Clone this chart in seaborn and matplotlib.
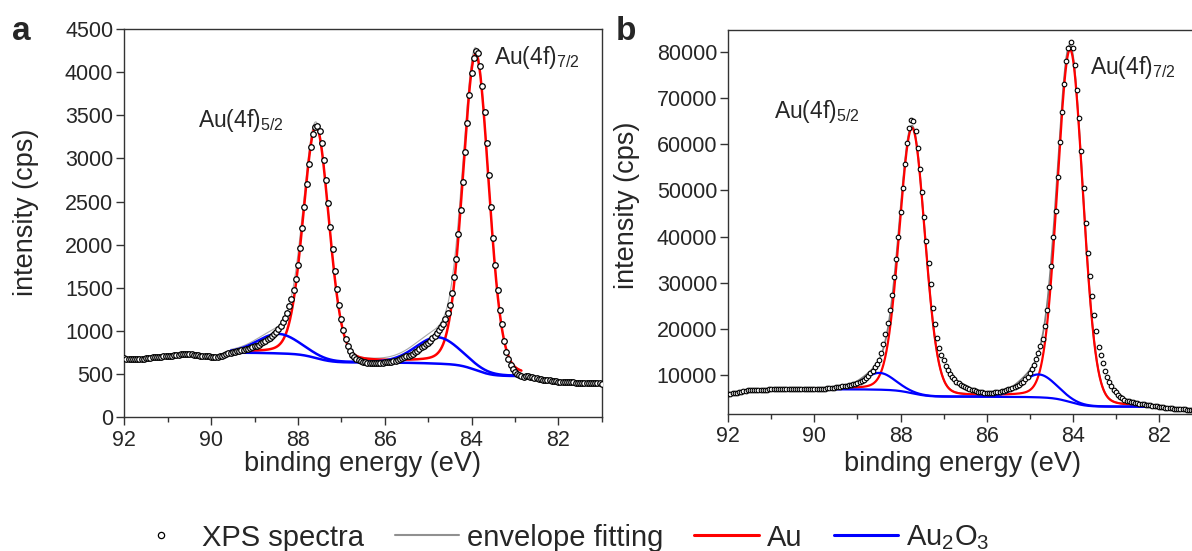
import numpy as np
import matplotlib
matplotlib.use("Agg")
import matplotlib.pyplot as plt
from matplotlib.lines import Line2D
from matplotlib.ticker import MultipleLocator
import seaborn as sns

sns.set_style("ticks")
plt.rcParams["font.family"] = ["Liberation Sans", "DejaVu Sans"]
plt.rcParams["mathtext.fontset"] = "custom"
plt.rcParams["mathtext.rm"] = "Liberation Sans"
plt.rcParams["mathtext.it"] = "Liberation Sans:italic"
plt.rcParams["mathtext.bf"] = "Liberation Sans:bold"

# ---------------------------------------------------------------------------
# Measured Au 4f spectra, binding energy scanned from 92.00 eV down in 0.05 eV steps
# ---------------------------------------------------------------------------
SCAN_START = 92.0
SCAN_STEP = 0.05

counts_a = [
    682, 680, 679, 681, 678, 680, 679, 677, 679, 681,      # 92.00 - 91.55
    682, 686, 691, 697, 701, 703, 704, 703, 706, 708,      # 91.50 - 91.05
    709, 711, 714, 718, 722, 727, 732, 736, 739, 738,      # 91.00 - 90.55
    735, 731, 727, 723, 720, 716, 713, 710, 707, 705,      # 90.50 - 90.05
    704, 702, 700, 701, 705, 714, 724, 733, 741, 749,      # 90.00 - 89.55
    757, 762, 768, 774, 779, 784, 790, 797, 805, 813,      # 89.50 - 89.05
    822, 832, 843, 856, 870, 885, 902, 921, 942, 966,      # 89.00 - 88.55
    993, 1024, 1060, 1102, 1152, 1212, 1285, 1375, 1480, 1600,   # 88.50 - 88.05
    1760, 1960, 2190, 2440, 2700, 2930, 3130, 3280, 3365, 3380,  # 88.00 - 87.55
    3315, 3180, 2985, 2745, 2480, 2210, 1950, 1700, 1485, 1300,  # 87.50 - 87.05
    1140, 1010, 905, 830, 770, 725, 695, 675, 660, 650,    # 87.00 - 86.55
    642, 637, 634, 632, 631, 631, 631, 632, 633, 634,      # 86.50 - 86.05
    636, 638, 641, 645, 650, 657, 665, 675, 687, 700,      # 86.00 - 85.55
    706, 713, 720, 736, 753, 772, 792, 812, 830, 848,      # 85.50 - 85.05
    866, 890, 915, 944, 975, 1008, 1045, 1085, 1135, 1205,       # 85.00 - 84.55
    1300, 1445, 1630, 1840, 2130, 2400, 2730, 3080, 3415, 3730,  # 84.50 - 84.05
    3990, 4165, 4240, 4220, 4075, 3845, 3535, 3180, 2805, 2435,  # 84.00 - 83.55
    2075, 1760, 1480, 1240, 1085, 880, 760, 670, 604, 555,       # 83.50 - 83.05
    520, 497, 485, 478, 472, 474, 476, 470, 462, 455,      # 83.00 - 82.55
    450, 446, 441, 437, 433, 430, 427, 424, 420, 417,      # 82.50 - 82.05
    414, 412, 411, 409, 408, 407, 406, 404, 403, 402,      # 82.00 - 81.55
    400, 399, 398, 397, 396, 395, 395, 394, 393, 392,      # 81.50 - 81.05
    391,                                                   # 81.00
]

counts_b = [
    5800, 5850, 5950, 6050, 6150, 6250, 6350, 6450, 6550, 6620,        # 92.00 - 91.55
    6680, 6720, 6750, 6760, 6740, 6720, 6730, 6760, 6800, 6850,        # 91.50 - 91.05
    6880, 6900, 6920, 6940, 6950, 6960, 6950, 6940, 6930, 6920,        # 91.00 - 90.55
    6900, 6880, 6870, 6860, 6850, 6840, 6830, 6830, 6840, 6850,        # 90.50 - 90.05
    6860, 6880, 6900, 6930, 6960, 7000, 7050, 7100, 7160, 7220,        # 90.00 - 89.55
    7290, 7350, 7420, 7490, 7560, 7630, 7720, 7800, 7900, 8030,        # 89.50 - 89.05
    8180, 8400, 8650, 8950, 9350, 9850, 10350, 10900, 11600, 12400,    # 89.00 - 88.55
    13300, 14700, 16600, 18800, 21300, 24000, 27400, 31300, 35100, 40000,  # 88.50 - 88.05
    45300, 50600, 55700, 60200, 63600, 65300, 65100, 62800, 59300, 54700,  # 88.00 - 87.55
    49600, 44200, 39000, 34200, 29800, 24500, 21000, 18000, 15800, 14300,  # 87.50 - 87.05
    13200, 12000, 11000, 10200, 9550, 9000, 8550, 8150, 7800, 7500,   # 87.00 - 86.55
    7250, 7050, 6880, 6720, 6600, 6480, 6380, 6280, 6200, 6160,       # 86.50 - 86.05
    6140, 6130, 6130, 6150, 6180, 6240, 6330, 6450, 6580, 6720,       # 86.00 - 85.55
    6850, 6980, 7100, 7300, 7550, 7850, 8150, 8550, 9000, 9600,       # 85.50 - 85.05
    10300, 11200, 12200, 13400, 14800, 16200, 17800, 20500, 24000, 29000,  # 85.00 - 84.55
    33600, 40000, 45500, 53000, 60500, 67000, 73000, 78000, 80800, 82200,  # 84.50 - 84.05
    80800, 77100, 71700, 65700, 58500, 50500, 43000, 36500, 31500, 27000,  # 84.00 - 83.55
    23000, 19500, 16100, 14300, 12500, 10900, 9500, 8400, 7500, 6800,     # 83.50 - 83.05
    6200, 5700, 5250, 4900, 4600, 4400, 4250, 4120, 4020, 3930,       # 83.00 - 82.55
    3840, 3750, 3660, 3580, 3500, 3430, 3360, 3290, 3220, 3150,       # 82.50 - 82.05
    3080, 3000, 2930, 2870, 2810, 2760, 2710, 2660, 2620, 2580,       # 82.00 - 81.55
    2550, 2510, 2480, 2440, 2400, 2350, 2320, 2290, 2260, 2230,       # 81.50 - 81.05
    2200,                                                             # 81.00
]

# ---------------------------------------------------------------------------
# Peak-fit results (pseudo-Voigt components on a Shirley background)
# ---------------------------------------------------------------------------
au_pos_a = [87.58, 83.90]
au_height_a = [2680, 3660]
au_fwhm_a = [0.70, 0.70]
ox_pos_a = [88.45, 84.78]
ox_height_a = [225, 305]
ox_fwhm_a = [1.15, 1.20]
fit_window_a = [89.55, 82.85]
gl_mix_a = 0.15

au_pos_b = [87.73, 84.06]
au_height_b = [57500, 76400]
au_fwhm_b = [0.70, 0.70]
ox_pos_b = [88.49, 84.79]
ox_height_b = [3630, 4960]
ox_fwhm_b = [0.85, 0.95]
fit_window_b = [90.00, 82.00]
gl_mix_b = 0.10

peak_labels = ["Au(4f)$_{5/2}$", "Au(4f)$_{7/2}$"]
label_pos_a = [(90.30, 3366), (83.48, 4094)]
label_pos_b = [(90.93, 65670), (83.59, 75290)]

RED = "#ff0000"
BLUE = "#0000ff"


def pseudo_voigt(e, center, height, fwhm, mix):
    d = (e - center) / fwhm
    return height * ((1 - mix) * np.exp(-4 * np.log(2) * d ** 2) + mix / (1 + 4 * d ** 2))


def energy_axis(n):
    return np.round(SCAN_START - SCAN_STEP * np.arange(n), 2)


def draw_panel(ax, counts, au_pos, au_h, au_w, ox_pos, ox_h, ox_w, window, mix,
               marker_size, marker_lw, env_color, env_lw, line_lw, extend_background):
    energy = energy_axis(len(counts))
    counts = np.asarray(counts, dtype=float)
    hi_e, lo_e = window
    hi_val = counts[np.isclose(energy, hi_e)][0]
    lo_val = counts[np.isclose(energy, lo_e)][0]

    fine = np.linspace(hi_e, lo_e, 1201)
    au = sum(pseudo_voigt(fine, c, h, w, mix) for c, h, w in zip(au_pos, au_h, au_w))
    ox = sum(pseudo_voigt(fine, c, h, w, mix) for c, h, w in zip(ox_pos, ox_h, ox_w))
    # Shirley step: background follows the integrated peak area from the low-energy side
    cum = np.cumsum((au + ox)[::-1])[::-1]
    bg = lo_val + (hi_val - lo_val) * cum / cum[0]

    kw = dict(ax=ax, sort=False, estimator=None, legend=False)
    sns.lineplot(x=fine, y=bg + au + ox, color=env_color, lw=env_lw, zorder=2, **kw)
    sns.lineplot(x=fine, y=bg + au, color=RED, lw=line_lw, zorder=3, **kw)
    sns.lineplot(x=fine, y=bg + ox, color=BLUE, lw=line_lw, zorder=4, **kw)
    sns.lineplot(x=fine, y=bg, color=BLUE, lw=line_lw, zorder=4, **kw)
    if extend_background:
        left = energy >= hi_e
        right = energy <= lo_e
        sns.lineplot(x=energy[left], y=counts[left], color=BLUE, lw=line_lw, zorder=4, **kw)
        sns.lineplot(x=energy[right], y=counts[right], color=BLUE, lw=line_lw, zorder=4, **kw)

    sns.scatterplot(x=energy, y=counts, ax=ax, marker="o", s=marker_size,
                    color="white", edgecolor="black", linewidth=marker_lw,
                    zorder=6, legend=False, clip_on=True)


def style_axes(ax, ymin, ymax, ystep):
    ax.set_xlim(92, 81)
    ax.set_ylim(ymin, ymax)
    ax.xaxis.set_major_locator(MultipleLocator(2))
    ax.xaxis.set_minor_locator(MultipleLocator(1))
    ax.yaxis.set_major_locator(MultipleLocator(ystep))
    ax.tick_params(axis="both", which="major", direction="out", length=6, width=1.0,
                   color="#333333", labelsize=15.5, pad=2)
    ax.tick_params(axis="x", which="minor", direction="out", length=3.3, width=1.0,
                   color="#333333")
    ax.tick_params(axis="x", which="major", pad=3)
    for side in ("left", "bottom", "top", "right"):
        ax.spines[side].set_visible(True)
        ax.spines[side].set_color("#333333")
        ax.spines[side].set_linewidth(1.0)
    ax.set_xlabel("")
    ax.set_ylabel("")


W, H = 1192, 551
fig = plt.figure(figsize=(W / 100, H / 100), dpi=100)


def px_axes(left, top, right, bottom):
    return fig.add_axes([left / W, 1 - bottom / H, (right - left) / W, (bottom - top) / H])


ax_a = px_axes(124.3, 29.0, 601.7, 417.3)
ax_b = px_axes(728.3, 30.0, 1201.9, 414.0)

draw_panel(ax_a, counts_a, au_pos_a, au_height_a, au_fwhm_a, ox_pos_a, ox_height_a,
           ox_fwhm_a, fit_window_a, gl_mix_a, marker_size=16, marker_lw=0.9,
           env_color="#a8a8a8", env_lw=0.8, line_lw=1.8, extend_background=False)
draw_panel(ax_b, counts_b, au_pos_b, au_height_b, au_fwhm_b, ox_pos_b, ox_height_b,
           ox_fwhm_b, fit_window_b, gl_mix_b, marker_size=11, marker_lw=0.8,
           env_color="#808080", env_lw=1.3, line_lw=1.6, extend_background=True)

style_axes(ax_a, 0, 4500, 500)
style_axes(ax_b, 1500, 84800, 10000)

for ax, positions in ((ax_a, label_pos_a), (ax_b, label_pos_b)):
    for text, (x, y) in zip(peak_labels, positions):
        ax.text(x, y, text, fontsize=16.5, ha="left", va="baseline", zorder=8)

# axis titles and panel letters
fig.text(26 / W, 1 - 212 / H, "intensity (cps)", rotation=90, ha="center", va="center",
         fontsize=19.5)
fig.text(627 / W, 1 - 205 / H, "intensity (cps)", rotation=90, ha="center", va="center",
         fontsize=19.5)
fig.text(362.5 / W, 1 - 464 / H, "binding energy (eV)", ha="center", va="center",
         fontsize=19.5)
fig.text(962.5 / W, 1 - 464 / H, "binding energy (eV)", ha="center", va="center",
         fontsize=19.5)
fig.text(12 / W, 1 - 40 / H, "a", fontsize=24, fontweight="bold", ha="left", va="baseline")
fig.text(616 / W, 1 - 40 / H, "b", fontsize=24, fontweight="bold", ha="left", va="baseline")

handles = [
    Line2D([], [], ls="none", marker="o", markersize=4.5, markerfacecolor="white",
           markeredgecolor="black", markeredgewidth=0.9),
    Line2D([], [], color="#909090", lw=1.5),
    Line2D([], [], color=RED, lw=2.2),
    Line2D([], [], color=BLUE, lw=2.2),
]
labels = ["XPS spectra", "envelope fitting", "Au", "Au$_2$O$_3$"]
fig.legend(handles, labels, loc="center left", bbox_to_anchor=(129 / W, 1 - 538 / H),
           ncol=4, frameon=False, fontsize=21, handlelength=2.2, handletextpad=0.3,
           columnspacing=1.05, borderpad=0, borderaxespad=0)

fig.savefig("out.png", dpi=100)
